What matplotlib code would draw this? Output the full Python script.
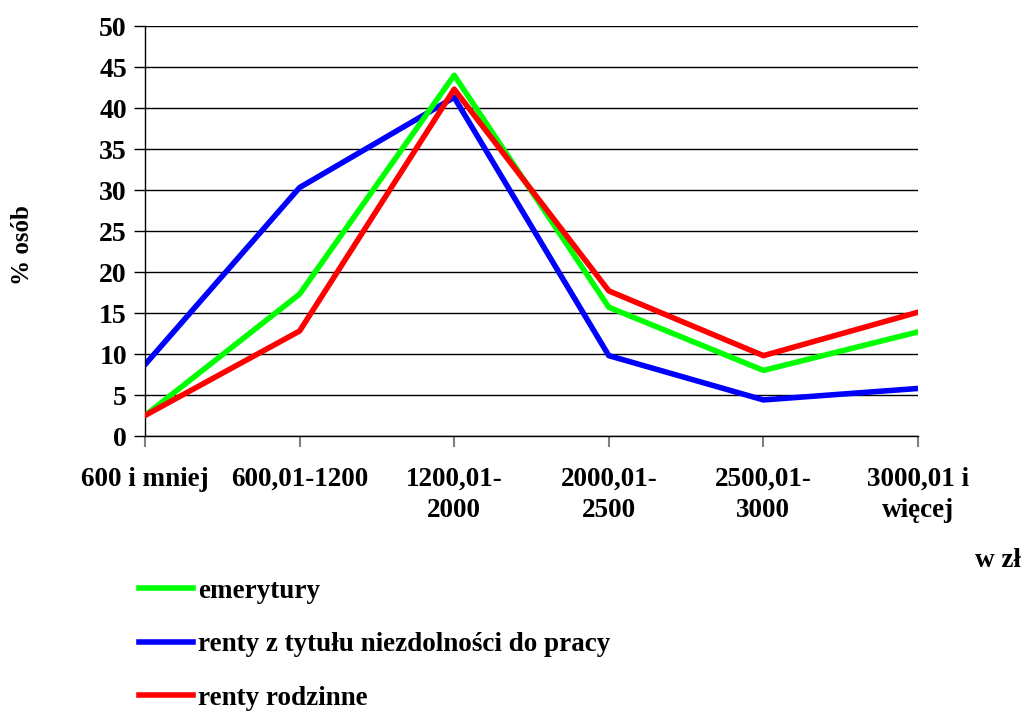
import matplotlib.pyplot as plt
from matplotlib.lines import Line2D

categories = ['600 i mniej', '600,01-1200', '1200,01-\n2000', '2000,01-\n2500',
              '2500,01-\n3000', '3000,01 i\nwięcej']
emerytury = [2.5, 17.3, 44.0, 15.7, 8.0, 12.7]
renty_niezdolnosc = [8.7, 30.3, 41.3, 9.8, 4.4, 5.8]
renty_rodzinne = [2.5, 12.8, 42.3, 17.7, 9.8, 15.1]
series_names = ['emerytury', 'renty z tytułu niezdolności do pracy', 'renty rodzinne']

plt.rcParams['font.family'] = ['Liberation Serif', 'DejaVu Serif']
plt.rcParams['font.weight'] = 'bold'
fs = 19.5

fig = plt.figure(figsize=(10.23, 7.15), dpi=100)
ax = fig.add_axes([0.1417, 0.3902, 0.7557, 0.5734])

x = list(range(len(categories)))
lw = 4.0
l1, = ax.plot(x, emerytury, color='#00ff00', lw=lw, solid_capstyle='round', zorder=3)
l2, = ax.plot(x, renty_niezdolnosc, color='#0000ff', lw=lw, solid_capstyle='round', zorder=2)
l3, = ax.plot(x, renty_rodzinne, color='#ff0000', lw=lw, solid_capstyle='round', zorder=4)

ax.set_xlim(0, len(categories) - 1)
ax.set_ylim(0, 50)
ax.set_yticks(range(0, 51, 5))
ax.yaxis.grid(True, color='black', lw=1)
ax.set_axisbelow(True)
for s in ['top', 'right']:
    ax.spines[s].set_visible(False)
ax.spines['left'].set_linewidth(1)
ax.spines['bottom'].set_linewidth(1)
ax.tick_params(axis='y', labelsize=20, length=8, width=1, pad=5)
ax.set_xticks(x)
ax.set_xticklabels(categories, fontsize=fs, fontweight='bold', linespacing=1.35)
ax.tick_params(axis='x', length=8, width=1.5, color='gray', pad=14)
for lab in ax.get_yticklabels():
    lab.set_fontweight('bold')

fig.text(0.022, 0.657, '% osób', rotation=90, ha='center', va='center', fontsize=18, fontweight='bold')
fig.text(0.953, 0.216, 'w zł', ha='left', va='center', fontsize=fs, fontweight='bold')

handles = [Line2D([], [], color=c, lw=lw) for c in ['#00ff00', '#0000ff', '#ff0000']]
leg = fig.legend(handles, series_names, loc='upper left', bbox_to_anchor=(0.125, 0.206),
                 frameon=False, fontsize=fs, handlelength=2.0, handletextpad=0.2,
                 labelspacing=1.06, borderaxespad=0)
for t in leg.get_texts():
    t.set_fontweight('bold')

fig.savefig('out.png', dpi=100)
